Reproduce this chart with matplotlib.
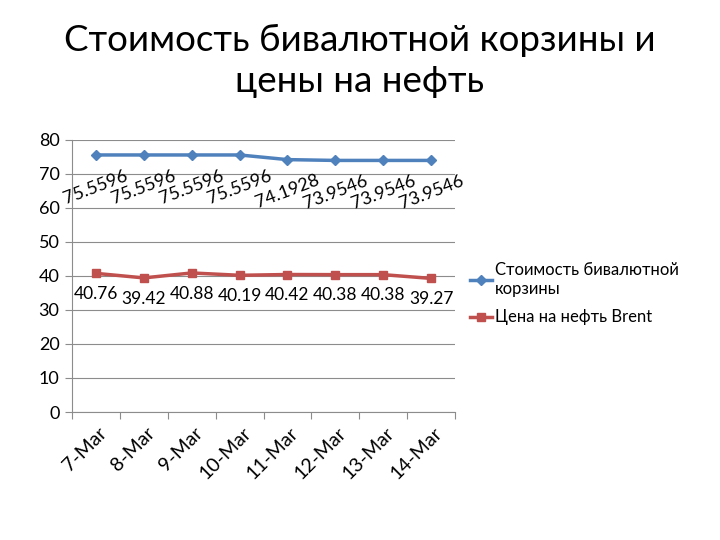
import matplotlib
matplotlib.use("Agg")
import matplotlib.pyplot as plt

plt.rcParams['font.family'] = ['Lato', 'Noto Sans', 'DejaVu Sans']

dates = ["7-Mar", "8-Mar", "9-Mar", "10-Mar", "11-Mar", "12-Mar", "13-Mar", "14-Mar"]
basket = [75.5596, 75.5596, 75.5596, 75.5596, 74.1928, 73.9546, 73.9546, 73.9546]
brent = [40.76, 39.42, 40.88, 40.19, 40.42, 40.38, 40.38, 39.27]
yticks = [0, 10, 20, 30, 40, 50, 60, 70, 80]

fig = plt.figure(figsize=(7.2, 5.4), dpi=100)
ax = fig.add_axes([0.1, 0.237, 0.532, 0.504])

x = list(range(len(dates)))
ax.plot(x, basket, color='#4F81BD', lw=2.5, marker='D', ms=5,
        label='Стоимость бивалютной\nкорзины')
ax.plot(x, brent, color='#C0504D', lw=2.5, marker='s', ms=6,
        label='Цена на нефть Brent')

for xi, v in zip(x, basket):
    ax.annotate(f"{v:g}", (xi, v), xytext=(0, -23), textcoords='offset points',
                ha='center', va='center', rotation=21, fontsize=13)
for xi, v in zip(x, brent):
    ax.annotate(f"{v:.2f}", (xi, v), xytext=(0, -15), textcoords='offset points',
                ha='center', va='center', fontsize=12.5)

ax.set_xlim(-0.5, len(dates) - 0.5)
ax.set_ylim(0, 80)
ax.set_yticks(yticks)
ax.set_yticklabels([str(t) for t in yticks], fontsize=13)
ax.yaxis.grid(True, color='#8c8c8c', lw=0.8)
ax.set_axisbelow(True)
ax.tick_params(axis='y', length=5, color='#8c8c8c', pad=4)

ax.set_xticks([i - 0.5 for i in x] + [len(dates) - 0.5])
ax.set_xticklabels([])
ax.tick_params(axis='x', length=5, color='#8c8c8c')
for xi, d in zip(x, dates):
    ax.text(xi + 0.05, -3.5, d, rotation=45, ha='right', va='top', rotation_mode='anchor',
            fontsize=14, transform=ax.transData)

for s in ['top', 'right']:
    ax.spines[s].set_visible(False)
ax.spines['left'].set_color('#8c8c8c')
ax.spines['bottom'].set_color('#8c8c8c')

fig.text(0.5, 0.955, "Стоимость бивалютной корзины и\nцены на нефть", ha='center', va='top',
         fontsize=26.5, linespacing=1.3)

fig.legend(loc='upper left', bbox_to_anchor=(0.632, 0.542), frameon=False, fontsize=12,
           handlelength=1.3, handletextpad=0.2, labelspacing=0.75)

fig.savefig("out.png", dpi=100)
